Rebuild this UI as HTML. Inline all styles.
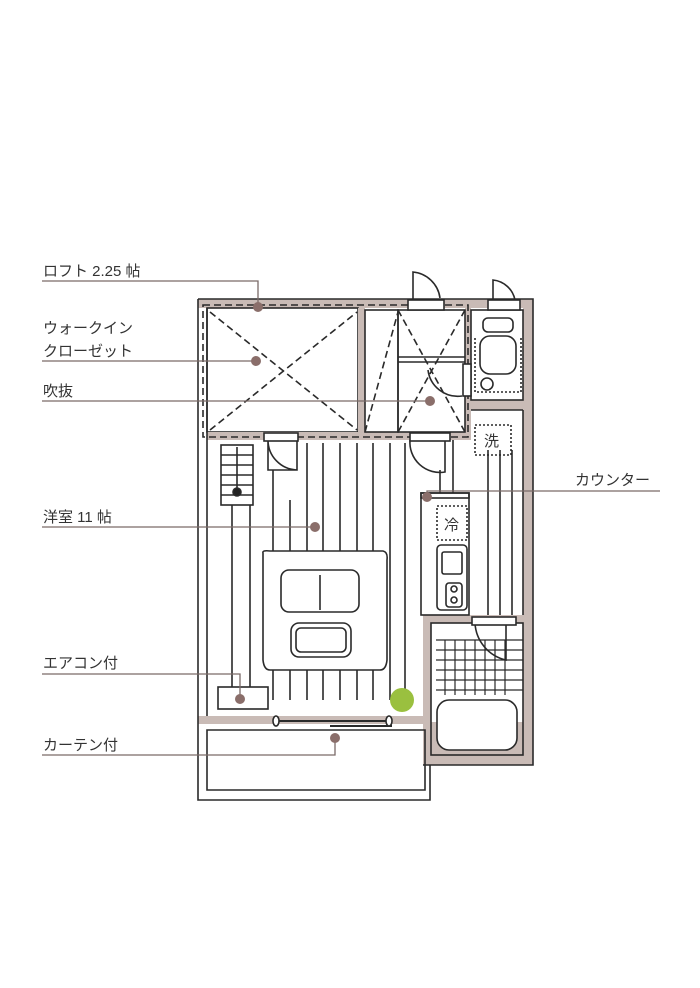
<!DOCTYPE html>
<html><head><meta charset="utf-8"><style>
html,body{margin:0;padding:0;background:#fff}
svg{display:block}
text{font-family:"Liberation Sans","Noto Sans CJK JP",sans-serif;font-size:15px;fill:#333}
</style></head><body>
<svg width="700" height="988" viewBox="0 0 700 988" xmlns="http://www.w3.org/2000/svg">
<g fill="none" stroke="#2a2a2a" stroke-width="1.6">
<!-- walls fill -->
<path d="M198 299 H533 V765 H423 V722 H207 V308 H198 Z" fill="#c9bbb6" stroke="none"/>
<rect x="207" y="308" width="316" height="414" fill="#fff" stroke="none"/>
<rect x="207" y="308" width="151" height="124" fill="#fff"/>
<!-- wall bands internal -->
<rect x="358" y="308" width="7" height="132" fill="#c9bbb6" stroke="none"/>
<rect x="207" y="432" width="258" height="8" fill="#c9bbb6" stroke="none"/>
<rect x="465" y="308" width="6" height="132" fill="#c9bbb6" stroke="none"/>
<rect x="471" y="400" width="52" height="10" fill="#c9bbb6" stroke="none"/>
<rect x="423" y="615" width="100" height="8" fill="#c9bbb6" stroke="none"/>
<rect x="423" y="615" width="8" height="150" fill="#c9bbb6" stroke="none"/>
<rect x="523" y="299" width="10" height="466" fill="#c9bbb6" stroke="none"/>
<rect x="198" y="716" width="232" height="8" fill="#c9bbb6" stroke="none"/>
<!-- outlines -->
<path d="M198 299 H533 V765 H423"/>
<path d="M198 299 V722"/>
<path d="M207 308 V716"/>
<rect x="365" y="310" width="33" height="122"/>
<rect x="398" y="310" width="67" height="122"/>
<line x1="398" y1="357" x2="465" y2="357"/>
<line x1="398" y1="362" x2="465" y2="362"/>
<rect x="471" y="310" width="52" height="90"/>
<rect x="431" y="623" width="92" height="132"/>
<line x1="523" y1="410" x2="523" y2="615"/>
<line x1="471" y1="410" x2="523" y2="410"/>
<!-- dashed loft -->
<path d="M203 305 H468 V437 H203 Z" stroke-dasharray="7 4"/>
<path d="M210 312 L357 430 M210 430 L357 312" stroke-dasharray="7 4"/>
<path d="M398 310 L465 432 M465 310 L398 432 M365 432 L398 312" stroke-dasharray="7 4"/>
<!-- doors -->
<path d="M413 310 V272 A30 30 0 0 1 440 298" />
<rect x="408" y="300" width="36" height="10" fill="#fff"/>
<path d="M493 310 V280 A25 25 0 0 1 515 300"/>
<rect x="488" y="300" width="32" height="10" fill="#fff"/>
<path d="M268 440 V470 H297 V440 M268 440 A30 30 0 0 0 297 470"/>
<rect x="264" y="433" width="34" height="8" fill="#fff"/>
<path d="M410 440 A30 30 0 0 0 445 472 V440"/>
<rect x="410" y="433" width="40" height="8" fill="#fff"/>
<path d="M428 370 A30 30 0 0 0 462 396"/>
<rect x="463" y="364" width="8" height="32" fill="#fff"/>
<path d="M475 623 A40 40 0 0 0 506 660 V623"/>
<rect x="472" y="617" width="44" height="8" fill="#fff"/>
<!-- toilet -->
<rect x="483" y="318" width="30" height="14" rx="5"/>
<rect x="480" y="336" width="36" height="38" rx="10"/>
<path d="M475 338 V392 H521 V338" stroke-dasharray="2 2"/>
<circle cx="487" cy="384" r="6"/>
<!-- stairs -->
<rect x="221" y="445" width="32" height="60"/>
<path d="M221 455 H253 M221 465 H253 M221 475 H253 M221 485 H253 M221 495 H253 M237 447 V495"/>
<circle cx="237" cy="492" r="4" fill="#222"/>
<!-- floor lines -->
<path d="M307 443 V700 M323 443 V700 M340 443 V700 M357 443 V700 M373 443 V700 M390 443 V700 M405 443 V690 M290 500 V700 M273 470 V700 M232 505 V690 M250 505 V690 M440 470 V500 M453 440 V500 M488 450 V615 M500 450 V615 M512 450 V615"/>
<!-- table -->
<path d="M263 553 Q262 550 270 551 H383 Q388 552 387 560 V660 Q386 670 380 670 H270 Q264 670 263 660 Z" fill="#fff"/>
<rect x="281" y="570" width="78" height="42" rx="8" fill="#fff"/>
<line x1="320" y1="575" x2="320" y2="610"/>
<rect x="291" y="623" width="60" height="34" rx="8" fill="#fff"/>
<rect x="296" y="628" width="50" height="24" rx="5"/>
<!-- AC -->
<rect x="218" y="687" width="50" height="22" fill="#fff"/>
<!-- curtain -->
<path d="M276 721 H388 M330 726 H392" stroke-width="2"/>
<ellipse cx="276" cy="721" rx="3" ry="5" fill="#fff"/>
<ellipse cx="389" cy="721" rx="3" ry="5" fill="#fff"/>
<!-- balcony -->
<path d="M207 730 H425 V790 H207 Z"/>
<path d="M198 722 V800 H430 V765"/>
<!-- plant -->
<circle cx="402" cy="700" r="12" fill="#9ac03f" stroke="none"/>
<!-- kitchen -->
<rect x="421" y="493" width="48" height="122" fill="#fff"/>
<rect x="421" y="493" width="48" height="5"/>
<rect x="437" y="506" width="30" height="34" stroke-dasharray="2 2"/>
<rect x="437" y="545" width="30" height="65" rx="4"/>
<rect x="442" y="552" width="20" height="22" rx="2"/>
<rect x="446" y="583" width="16" height="24" rx="3"/>
<circle cx="454" cy="589" r="3"/><circle cx="454" cy="600" r="3"/>
<rect x="475" y="425" width="36" height="30" stroke-dasharray="2 2"/>
<!-- bath -->
<path d="M436 640 H523 M436 650 H523 M436 660 H523 M436 670 H523 M436 680 H523 M436 690 H523" stroke-width="1.2"/>
<path d="M445 640 V695 M455 640 V695 M465 640 V695 M475 640 V695 M485 640 V695 M495 640 V695 M505 640 V695" stroke-width="1.2"/>
<rect x="437" y="700" width="80" height="50" rx="12" fill="#fff"/>
</g>
<text x="484" y="446" font-size="16">洗</text>
<text x="444" y="530" font-size="16">冷</text>
<!-- leader lines -->
<g stroke="#7a6a68" stroke-width="1.3" fill="none">
<path d="M42 281 H258 V306"/>
<path d="M42 361 H256"/>
<path d="M42 401 H430"/>
<path d="M42 527 H315"/>
<path d="M42 674 H240 V698"/>
<path d="M42 755 H335 V737"/>
<path d="M660 491 H427 V497"/>
</g>
<g fill="#8a6e6a">
<circle cx="258" cy="307" r="5"/><circle cx="256" cy="361" r="5"/><circle cx="430" cy="401" r="5"/>
<circle cx="315" cy="527" r="5"/><circle cx="240" cy="699" r="5"/><circle cx="335" cy="738" r="5"/><circle cx="427" cy="497" r="5"/>
</g>
<text x="43" y="276">ロフト 2.25 帖</text>
<text x="43" y="333">ウォークイン</text>
<text x="43" y="356">クローゼット</text>
<text x="43" y="396">吹抜</text>
<text x="43" y="522">洋室 11 帖</text>
<text x="43" y="668">エアコン付</text>
<text x="43" y="750">カーテン付</text>
<text x="575" y="485">カウンター</text>
</svg>
</body></html>
